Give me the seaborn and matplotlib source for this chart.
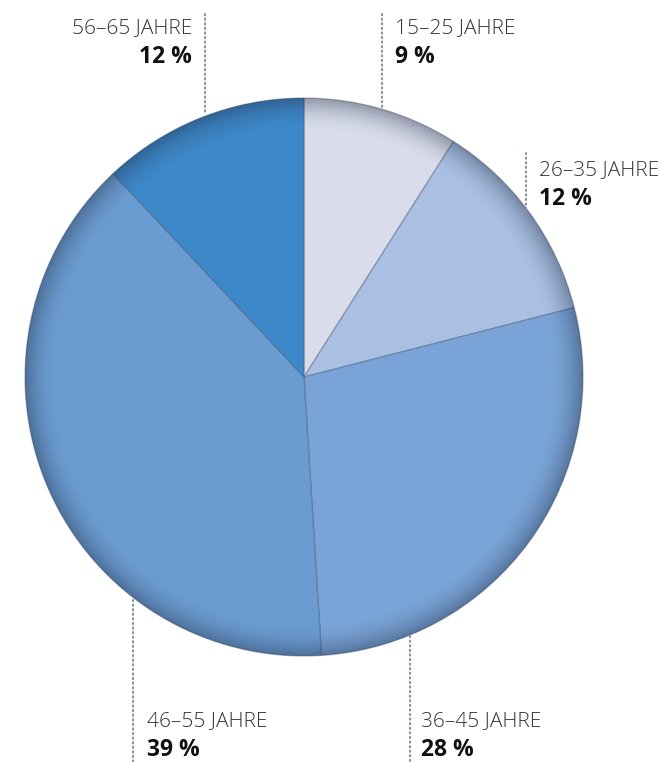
import numpy as np
import matplotlib
matplotlib.use("Agg")
import matplotlib.pyplot as plt
import seaborn as sns
from matplotlib.patches import Circle

# Age groups, share of respondents (clockwise from 12 o'clock)
age_groups = ["15–25 JAHRE", "26–35 JAHRE", "36–45 JAHRE", "46–55 JAHRE", "56–65 JAHRE"]
shares = [9, 12, 28, 39, 12]
slice_colors = ["#d9ddeb", "#a9c0e3", "#7aa4d7", "#6b9cd1", "#3d88c9"]

sns.set_theme(style="white")
plt.rcParams["font.family"] = ["Open Sans", "DejaVu Sans"]

W, H = 662, 762
fig = plt.figure(figsize=(W / 100, H / 100), dpi=100)
ax = fig.add_axes([0, 0, 1, 1])

cx, cy, r = 304, H - 377, 279

wedges, _ = ax.pie(
    shares,
    colors=slice_colors,
    startangle=90,
    counterclock=False,
    center=(cx, cy),
    radius=r,
    frame=True,
    wedgeprops=dict(linewidth=1.0, edgecolor=(0.25, 0.3, 0.4, 0.35)),
)
ax.set_xlim(0, W)
ax.set_ylim(0, H)
ax.set_aspect("equal")
ax.axis("off")

# soft darkening towards the rim of the disc
n = 600
xs = np.linspace(cx - r, cx + r, n)
ys = np.linspace(cy - r, cy + r, n)
X, Y = np.meshgrid(xs, ys)
d = np.sqrt((X - cx) ** 2 + (Y - cy) ** 2) / r
shade = np.clip((d - 0.88) / 0.12, 0, 1) ** 2 * 0.38
rgba = np.zeros((n, n, 4))
rgba[..., 0] = 0.12
rgba[..., 1] = 0.16
rgba[..., 2] = 0.25
rgba[..., 3] = shade
img = ax.imshow(rgba, extent=(cx - r, cx + r, cy - r, cy + r), origin="lower",
                interpolation="bilinear", zorder=3)
img.set_clip_path(Circle((cx, cy), r, transform=ax.transData))
ax.set_xlim(0, W)
ax.set_ylim(0, H)

# labels with dotted leader lines: (line x, line top, line bottom, text x, ha, title baseline)
label_layout = {
    "56–65 JAHRE": (205, 14, 112, 192, "right", 33),
    "15–25 JAHRE": (382, 14, 110, 395, "left", 33),
    "26–35 JAHRE": (526, 153, 213, 539, "left", 175),
    "46–55 JAHRE": (133, 600, 762, 147, "left", 726),
    "36–45 JAHRE": (410, 636, 762, 421, "left", 726),
}

for name, value in zip(age_groups, shares):
    lx, y0, y1, tx, ha, base = label_layout[name]
    ax.plot([lx, lx], [H - y0, H - y1], color="#8a93a0", lw=1.5,
            linestyle=(0, (0.6, 1.6)), solid_capstyle="round",
            dash_capstyle="round", zorder=4)
    ax.text(tx, H - base, name, ha=ha, va="baseline", fontsize=15,
            fontweight="light", color="#333333", zorder=5)
    ax.text(tx, H - base - 30, f"{value} %", ha=ha, va="baseline", fontsize=16.5,
            fontweight="bold", color="#111111", zorder=5)

fig.savefig("out.png", dpi=100, facecolor="white")
